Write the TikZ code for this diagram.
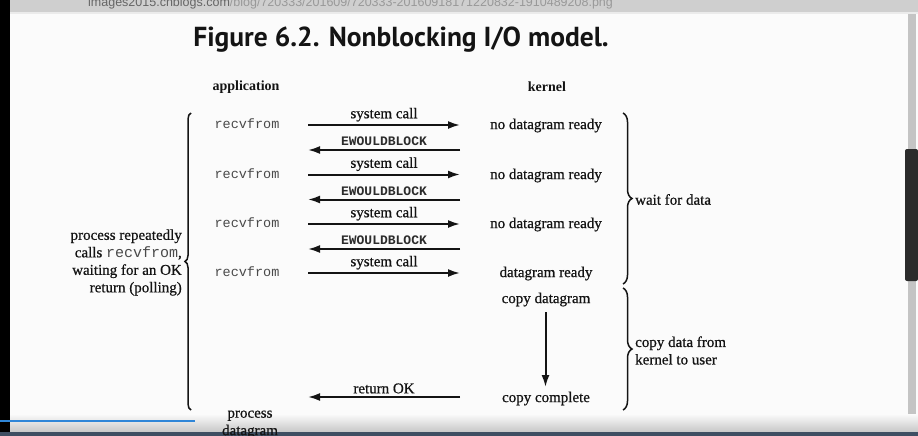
\documentclass[tikz,border=0pt]{standalone}
\usepackage{fontspec}
\setmainfont{Liberation Serif}
\setmonofont{Liberation Mono}
\newfontface\heavyserif{Liberation Serif}[FakeBold=0.7]
\newfontfamily\titlefont{PT Sans}
\newfontfamily\uifont{Liberation Sans}
\usetikzlibrary{arrows.meta,decorations.pathreplacing}
\definecolor{ink}{HTML}{141414}
\definecolor{monogray}{HTML}{4A4A4A}
\definecolor{barbg}{HTML}{CFCFCF}
\definecolor{pagebg}{HTML}{FBFBFB}
\definecolor{thumb}{HTML}{2B2B2B}
\definecolor{track}{HTML}{C4C4C4}
\definecolor{bottomband}{HTML}{3E4E62}
\definecolor{progress}{HTML}{2F86D8}
\begin{document}
\begin{tikzpicture}[x=1pt,y=-1pt,
  txt/.style={font=\heavyserif\fontsize{15}{17.5}\selectfont, text=ink, inner sep=0pt, yshift=-1.5pt},
  hd/.style={font=\fontsize{14}{16}\selectfont\bfseries, text=ink, inner sep=0pt},
  mono/.style={font=\ttfamily\fontsize{13.5}{15}\selectfont, text=monogray, inner sep=0pt},
  ew/.style={font=\ttfamily\bfseries\fontsize{13}{15}\selectfont, text=ink!90, inner sep=0pt, yshift=-1pt},
  arr/.style={line width=2pt, draw=ink, -{Latex[length=12pt,width=8pt]}},
  brc/.style={decorate, decoration={brace, amplitude=9pt}, line width=1.5pt, draw=ink},
]
\useasboundingbox (0,0) rectangle (918,436);
% page and browser chrome
\fill[pagebg] (0,0) rectangle (918,436);
\fill[barbg] (0,0) rectangle (918,12);
\fill[black!8] (0,12) rectangle (918,14);
\begin{scope}
  \clip (0,0) rectangle (918,12);
  \node[anchor=base west, font=\uifont\fontsize{12.5}{14}\selectfont, text=black!60, inner sep=0pt] (url) at (88,7)
    {images2015.cnblogs.com\textcolor{black!40}{/blog/720333/201609/720333-20160918171220832-1910489208.png}};
\end{scope}
\fill[black] (0,0) rectangle (10,436);
\fill[track] (908,14) rectangle (916,420);
\fill[thumb, rounded corners=2pt] (905,149) rectangle (918,281);
\shade[top color=pagebg, bottom color=black!22] (10,414) rectangle (918,432);
\fill[bottomband] (0,432) rectangle (918,436);
\draw[progress, line width=2pt] (0,421) -- (195,421);

% title
\node[font=\titlefont\bfseries\fontsize{27.5}{32}\selectfont, text=ink, inner sep=0pt] (title) at (401,40) {Figure 6.2. Nonblocking I/O model.};

% headers
\node[hd] (app) at (246,87) {application};
\node[hd] (kern) at (547,87) {kernel};

% application column
\node[mono] (r1) at (247,124) {recvfrom};
\node[mono] (r2) at (247,174) {recvfrom};
\node[mono] (r3) at (247,223) {recvfrom};
\node[mono] (r4) at (247,272) {recvfrom};

% kernel column
\node[txt] (k1) at (546,124) {no datagram ready};
\node[txt] (k2) at (546,174) {no datagram ready};
\node[txt] (k3) at (546,223) {no datagram ready};
\node[txt] (k4) at (546,272) {datagram ready};
\node[txt] (cd) at (546,298) {copy datagram};
\node[txt] (cc) at (546,397) {copy complete};

% arrow end points
\foreach \i/\y in {1/125,2/174.5,3/224,4/273}{
  \coordinate (sa\i) at (308,\y);
  \coordinate (sk\i) at (460,\y);
}
\foreach \i/\y in {1/150,2/199.5,3/249}{
  \coordinate (ea\i) at (308,\y);
  \coordinate (ek\i) at (460,\y);
}
\coordinate (ra) at (308,397);
\coordinate (rk) at (460,397);
\coordinate (vt) at (545.5,312);
\coordinate (vb) at (545.5,387);

% system call arrows
\foreach \i in {1,2,3,4}{
  \draw[arr] (sa\i) -- node[txt, above=4pt] (sc\i) {system call} (sk\i);
}
% EWOULDBLOCK arrows
\foreach \i in {1,2,3}{
  \draw[arr] (ek\i) -- node[ew, above=4pt] (ewl\i) {EWOULDBLOCK} (ea\i);
}
% return OK
\draw[arr] (rk) -- node[txt, above=4pt] (rok) {return OK} (ra);
% copy arrow
\draw[arr] (vt) -- (vb);

% process datagram
\node[txt, align=center] (pd) at (250,423) {process\\datagram};

% braces
\coordinate (lbt) at (191,113);
\coordinate (lbb) at (191,410);
\draw[brc, decoration={brace, amplitude=6pt}] (lbb) -- (lbt);
\node[txt, align=right, anchor=east] (poll) at (182,261)
  {process repeatedly\\calls {\ttfamily\color{monogray}recvfrom},\\waiting for an OK\\return (polling)};

\coordinate (w1t) at (623,113);
\coordinate (w1b) at (623,284);
\draw[brc] (w1t) -- (w1b);
\node[txt, anchor=west] (wait) at (635,198) {wait for data};

\coordinate (w2t) at (623,288);
\coordinate (w2b) at (623,410);
\draw[brc] (w2t) -- (w2b);
\node[txt, align=left, anchor=west] (copy) at (635,349) {copy data from\\kernel to user};
\end{tikzpicture}
\end{document}
